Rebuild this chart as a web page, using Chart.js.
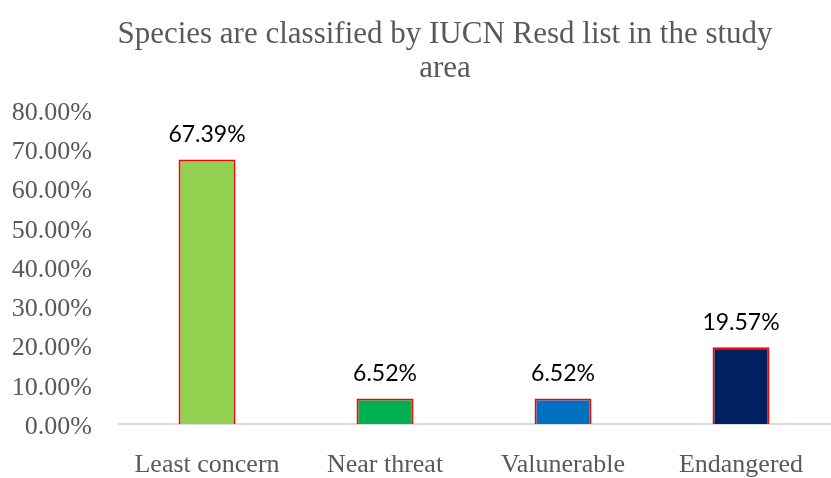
<!DOCTYPE html>
<html>
<head>
<meta charset="utf-8">
<script src="https://cdn.jsdelivr.net/npm/chart.js@4.4.1/dist/chart.umd.min.js"></script>
<style>
html,body{margin:0;padding:0;background:#fff;}
#wrap{width:831px;height:478px;}
</style>
</head>
<body>
<div id="wrap"><canvas id="c" width="831" height="478"></canvas></div>
<script>
const titleLines = ["Species are classified by IUCN Resd list in the study", "area"];
const categories = ["Least concern", "Near threat", "Valunerable", "Endangered"];
const shares = [0.6739, 0.0652, 0.0652, 0.1957];
const barColors = ["#92D050", "#00B050", "#0070C0", "#002060"];
const yMin = 0, yMax = 0.8, yStep = 0.1;

const labelPlugin = {
  id: 'valueLabels',
  afterLayout(chart) {
    if (chart.titleBlock) {
      chart.titleBlock.left = 60;
    }
  },
  afterDatasetsDraw(chart) {
    const ctx = chart.ctx;
    const meta = chart.getDatasetMeta(0);
    ctx.save();
    ctx.font = '23px Lato, "Open Sans", sans-serif';
    ctx.fillStyle = '#000000';
    ctx.textAlign = 'center';
    ctx.textBaseline = 'middle';
    meta.data.forEach((bar, i) => {
      const v = chart.data.datasets[0].data[i];
      ctx.fillText((v * 100).toFixed(2) + '%', bar.x, bar.y - 25);
    });
    ctx.restore();
  }
};

const serif = '"Liberation Serif", "Times New Roman", serif';

new Chart(document.getElementById('c'), {
  type: 'bar',
  data: {
    labels: categories,
    datasets: [{
      data: shares,
      backgroundColor: barColors,
      borderColor: '#FF0000',
      borderWidth: 2,
      barPercentage: 0.32,
      categoryPercentage: 1.0
    }]
  },
  plugins: [labelPlugin],
  options: {
    responsive: false,
    animation: false,
    layout: { padding: { left: 12, right: 1, top: 0, bottom: 0 } },
    plugins: {
      legend: { display: false },
      tooltip: { enabled: false },
      title: {
        display: true,
        text: titleLines,
        color: '#595959',
        font: { family: serif, size: 31, weight: 'normal', lineHeight: 1.097 },
        padding: { top: 18, bottom: 24 }
      }
    },
    scales: {
      x: {
        grid: { display: false, drawTicks: false },
        border: { display: true, color: '#D9D9D9', width: 2 },
        ticks: {
          color: '#595959',
          padding: 26,
          font: { family: serif, size: 26 }
        },
        afterFit(scale) { scale.height = 54; }
      },
      y: {
        min: yMin,
        max: yMax,
        grid: { display: false, drawTicks: false },
        border: { display: false },
        ticks: {
          stepSize: yStep,
          color: '#595959',
          padding: 26,
          labelOffset: 3,
          font: { family: serif, size: 26 },
          callback: (v) => (v * 100).toFixed(2) + '%'
        },
        afterFit(scale) { scale.width = 106; }
      }
    }
  }
});
</script>
</body>
</html>
